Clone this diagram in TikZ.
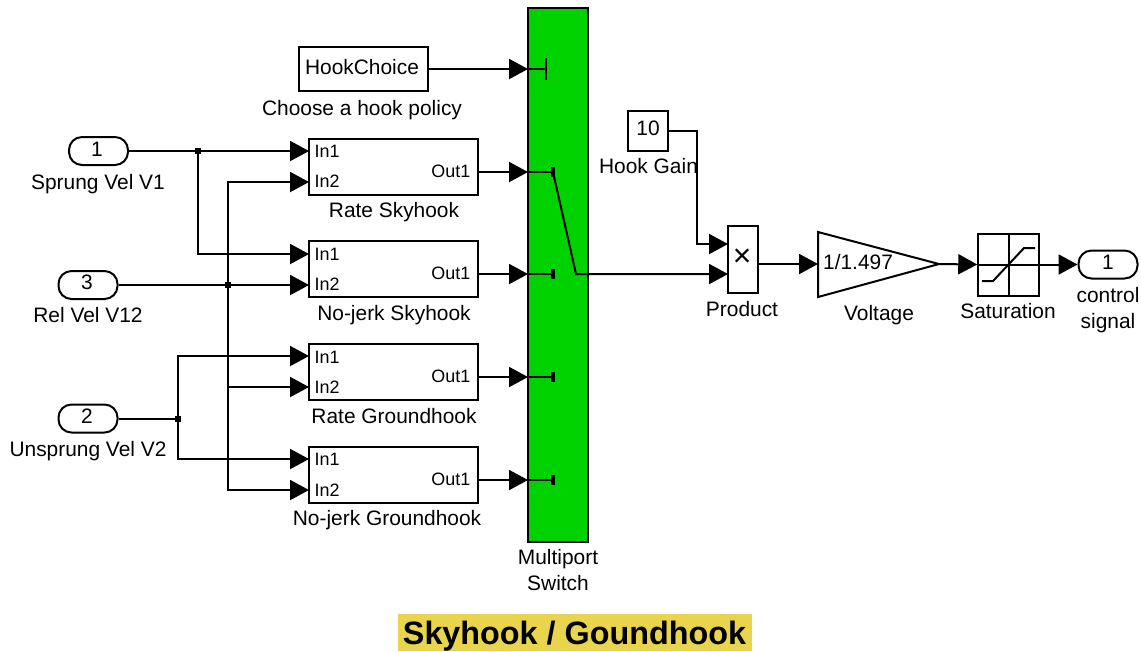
\documentclass[tikz,border=0pt]{standalone}
\usepackage{fontspec}
\setmainfont{Liberation Sans}
\usetikzlibrary{arrows.meta,calc}
\definecolor{SwitchColor}{RGB}{0,210,0}
\definecolor{TitleColor}{RGB}{232,212,77}
\tikzset{
  sig/.style={line width=0.02cm, -{Triangle[length=0.19cm,width=0.2cm]}},
  wire/.style={line width=0.02cm},
  block/.style={draw, line width=0.02cm, fill=white, inner sep=0pt},
  pill/.style={block, rounded corners=0.13cm, minimum width=0.59cm, minimum height=0.28cm},
  subsys/.style={block, minimum width=1.69cm, minimum height=0.56cm},
  lbl/.style={anchor=base, inner sep=0pt, align=center, font=\fontsize{5.95}{7.4}\selectfont},
  port/.style={anchor=base west, inner sep=0pt, font=\fontsize{5.1}{6}\selectfont},
  junct/.style={fill=black, inner sep=0pt, minimum size=0.06cm},
}
\begin{document}
\begin{tikzpicture}
  \useasboundingbox (0,0) rectangle (11.41,-6.51);
  % switch
  \node[block, fill=SwitchColor, minimum width=0.60cm, minimum height=5.34cm] (switch) at (5.58,-2.75) {};
  \node[lbl] (switchlbl) at (5.58,-5.90) {Multiport\\Switch};
  % hook policy
  \node[block, minimum width=1.29cm, minimum height=0.44cm] (hook) at (3.635,-0.69) {};
  \node[lbl] (hooktxt) at (3.62,-0.74) {HookChoice};
  \node[lbl] (hooklbl) at (3.62,-1.15) {Choose a hook policy};
  % inports
  \node[pill] (sprung) at (0.985,-1.51) {};
  \node[lbl] (sprungnum) at (0.97,-1.56) {1};
  \node[lbl] (sprunglbl) at (0.98,-1.89) {Sprung Vel V1};
  \node[pill] (rel) at (0.88,-2.85) {};
  \node[lbl] (relnum) at (0.87,-2.89) {3};
  \node[lbl] (rellbl) at (0.88,-3.22) {Rel Vel V12};
  \node[pill] (unsprung) at (0.88,-4.185) {};
  \node[lbl] (unsprungnum) at (0.87,-4.23) {2};
  \node[lbl] (unsprunglbl) at (0.88,-4.56) {Unsprung Vel V2};
  % subsystems
  \node[subsys] (ratesky) at (3.935,-1.665) {};
  \node[port] (rateskya) at (3.14,-1.57) {In1};
  \node[port] (rateskyb) at (3.14,-1.87) {In2};
  \node[port, anchor=base east] (rateskyc) at (4.71,-1.77) {Out1};
  \node[lbl] (rateskylbl) at (3.94,-2.17) {Rate Skyhook};
  \node[subsys] (jerksky) at (3.935,-2.69) {};
  \node[port] (jerkskya) at (3.14,-2.60) {In1};
  \node[port] (jerkskyb) at (3.14,-2.90) {In2};
  \node[port, anchor=base east] (jerkskyc) at (4.71,-2.79) {Out1};
  \node[lbl] (jerkskylbl) at (3.94,-3.20) {No-jerk Skyhook};
  \node[subsys] (rateground) at (3.935,-3.72) {};
  \node[port] (rategrounda) at (3.14,-3.63) {In1};
  \node[port] (rategroundb) at (3.14,-3.93) {In2};
  \node[port, anchor=base east] (rategroundc) at (4.71,-3.82) {Out1};
  \node[lbl] (rategroundlbl) at (3.94,-4.23) {Rate Groundhook};
  \node[subsys] (jerkground) at (3.935,-4.75) {};
  \node[port] (jerkgrounda) at (3.14,-4.65) {In1};
  \node[port] (jerkgroundb) at (3.14,-4.96) {In2};
  \node[port, anchor=base east] (jerkgroundc) at (4.71,-4.85) {Out1};
  \node[lbl] (jerkgroundlbl) at (3.87,-5.25) {No-jerk Groundhook};
  % ports of the subsystems
  \coordinate (rateskyin1) at (3.09,-1.51);
  \coordinate (rateskyin2) at (3.09,-1.82);
  \coordinate (jerkskyin1) at (3.09,-2.54);
  \coordinate (jerkskyin2) at (3.09,-2.85);
  \coordinate (rategroundin1) at (3.09,-3.56);
  \coordinate (rategroundin2) at (3.09,-3.87);
  \coordinate (jerkgroundin1) at (3.09,-4.59);
  \coordinate (jerkgroundin2) at (3.09,-4.90);
  \coordinate (rateskyout) at (4.78,-1.72);
  \coordinate (jerkskyout) at (4.78,-2.74);
  \coordinate (rategroundout) at (4.78,-3.77);
  \coordinate (jerkgroundout) at (4.78,-4.80);
  % switch ports
  \coordinate (swhook) at (5.28,-0.69);
  \coordinate (swa) at (5.28,-1.72);
  \coordinate (swb) at (5.28,-2.74);
  \coordinate (swc) at (5.28,-3.77);
  \coordinate (swd) at (5.28,-4.80);
  \coordinate (swta) at (5.53,-1.72);
  \coordinate (swtb) at (5.53,-2.74);
  \coordinate (swtc) at (5.53,-3.77);
  \coordinate (swtd) at (5.53,-4.80);
  \coordinate (swpivot) at (5.76,-2.74);
  \draw[wire] (swhook) -- ++(0.175,0) coordinate (swthook);
  \draw[wire] ($(swthook)+(0,0.11)$) -- ($(swthook)+(0,-0.11)$);
  \draw[wire] (swa) -- (swta);
  \draw[wire] (swb) -- (swtb);
  \draw[wire] (swc) -- (swtc);
  \draw[wire] (swd) -- (swtd);
  \draw[line width=0.035cm] ($(swta)+(0,0.05)$) -- ($(swta)+(0,-0.05)$);
  \draw[line width=0.035cm] ($(swtb)+(0,0.05)$) -- ($(swtb)+(0,-0.05)$);
  \draw[line width=0.035cm] ($(swtc)+(0,0.05)$) -- ($(swtc)+(0,-0.05)$);
  \draw[line width=0.035cm] ($(swtd)+(0,0.05)$) -- ($(swtd)+(0,-0.05)$);
  % right hand blocks
  \node[block, minimum width=0.40cm, minimum height=0.40cm] (gain) at (6.48,-1.31) {};
  \node[lbl] (gaintxt) at (6.48,-1.35) {10};
  \node[lbl] (gainlbl) at (6.485,-1.73) {Hook Gain};
  \node[block, minimum width=0.30cm, minimum height=0.67cm] (product) at (7.43,-2.595) {};
  \node[inner sep=0pt, font=\fontsize{9}{9}\selectfont] (producttxt) at (7.42,-2.58) {×};
  \node[lbl] (productlbl) at (7.42,-3.16) {Product};
  \coordinate (prodin1) at (7.28,-2.44);
  \coordinate (prodin2) at (7.28,-2.74);
  \coordinate (prodout) at (7.58,-2.64);
  \coordinate (voltin) at (8.18,-2.64);
  \coordinate (voltout) at (9.39,-2.64);
  \draw[wire, fill=white, line join=miter] (8.18,-2.32) -- (8.18,-2.97) -- (voltout) -- cycle;
  \node[lbl] (volttxt) at (8.58,-2.69) {1/1.497};
  \node[lbl] (voltlbl) at (8.79,-3.20) {Voltage};
  \node[block, minimum width=0.605cm, minimum height=0.62cm] (sat) at (10.085,-2.645) {};
  \draw[wire] (sat.west) -- (sat.east);
  \draw[wire] (sat.north) -- (sat.south);
  \draw[wire] (9.82,-2.81) -- (9.93,-2.81) -- (10.24,-2.48) -- (10.35,-2.48);
  \node[lbl] (satlbl) at (10.08,-3.18) {Saturation};
  \node[pill] (control) at (11.08,-2.645) {};
  \node[lbl] (controlnum) at (11.08,-2.69) {1};
  \node[lbl] (controllbl) at (11.08,-3.28) {control\\signal};
  % junctions
  \node[junct] (jsprung) at (1.98,-1.51) {};
  \node[junct] (jrel) at (2.28,-2.85) {};
  \node[junct] (junsprung) at (1.78,-4.185) {};
  % signals
  \draw[sig] (hook.east) -- (swhook);
  \draw[sig] (sprung.east) -- (rateskyin1);
  \draw[sig] (jsprung.center) |- (jerkskyin1);
  \draw[sig] (rel.east) -- (jerkskyin2);
  \draw[sig] (jrel.center) |- (rateskyin2);
  \draw[sig] (jrel.center) |- (rategroundin2);
  \draw[sig] (jrel.center) |- (jerkgroundin2);
  \draw[wire] (unsprung.east) -- (junsprung.center);
  \draw[sig] (junsprung.center) |- (rategroundin1);
  \draw[sig] (junsprung.center) |- (jerkgroundin1);
  \draw[sig] (rateskyout) -- (swa);
  \draw[sig] (jerkskyout) -- (swb);
  \draw[sig] (rategroundout) -- (swc);
  \draw[sig] (jerkgroundout) -- (swd);
  \draw[sig] (swta) -- (swpivot) -- (prodin2);
  \draw[sig] (gain.east) -| (6.97,-2.44) -- (prodin1);
  \draw[sig] (prodout) -- (voltin);
  \draw[sig] (voltout) -- (sat.west);
  \draw[sig] (sat.east) -- (control.west);
  % title
  \node[fill=TitleColor, inner sep=0pt, minimum width=3.54cm, minimum height=0.37cm] (title) at (5.75,-6.325) {};
  \node[anchor=base, inner sep=0pt, font=\fontsize{9.2}{10}\selectfont\bfseries] (titletxt) at (5.745,-6.44) {Skyhook / Goundhook};
\end{tikzpicture}
\end{document}
